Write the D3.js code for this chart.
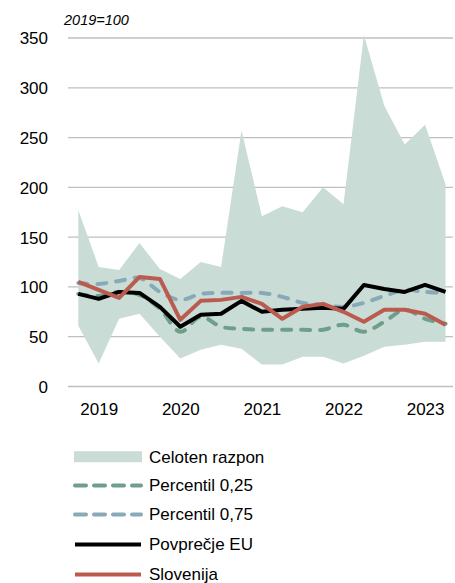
<!DOCTYPE html>
<html>
<head>
<meta charset="utf-8">
<script src="https://cdn.jsdelivr.net/npm/d3@7"></script>
<style>
  html, body { margin: 0; padding: 0; background: #fff; }
  svg { display: block; font-family: "Liberation Sans", Arial, sans-serif; }
</style>
</head>
<body>
<svg id="chart" width="455" height="583"></svg>
<script>
const quarters = ["2019Q1","2019Q2","2019Q3","2019Q4","2020Q1","2020Q2","2020Q3","2020Q4",
  "2021Q1","2021Q2","2021Q3","2021Q4","2022Q1","2022Q2","2022Q3","2022Q4",
  "2023Q1","2023Q2","2023Q3"];
const rangeMax = [177,120,117,144,118,108,125,120,257,171,181,175,200,183,353,282,243,263,203];
const rangeMin = [61,23,68,73,50,28,37,42,38,22,22,30,30,23,31,40,42,45,45];
const p25 = [93,91,95,92,78,55,70,60,58,57,57,57,57,62,55,65,77,68,63];
const p75 = [104,103,106,109,95,87,93,94,94,94,90,84,82,80,84,91,97,95,94];
const euAvg = [93,88,95,94,80,60,72,73,86,75,77,78,79,78,102,98,95,102,95];
const slovenia = [105,97,89,110,108,67,86,87,90,83,68,80,83,75,65,77,77,73,62];
const yTicks = [0,50,100,150,200,250,300,350];
const xTickQuarters = ["2019Q2","2020Q2","2021Q2","2022Q2","2023Q2"];
const unitLabel = "2019=100";
const legendLabels = ["Celoten razpon","Percentil 0,25","Percentil 0,75","Povprečje EU","Slovenija"];

const colors = {
  band: "#c9dcd5",
  p25: "#6e9f8a",
  p75: "#88a9b8",
  eu: "#000000",
  si: "#bb5a4f",
  grid: "#bfbfbf"
};

const svg = d3.select("#chart");
const x = d3.scalePoint().domain(quarters).range([78.3, 445.5]);
const y = d3.scaleLinear().domain([0, 350]).range([386.5, 38]);

// gridlines
svg.append("g").selectAll("line").data(yTicks).join("line")
  .attr("x1", 68).attr("x2", 453)
  .attr("y1", d => y(d)).attr("y2", d => y(d))
  .attr("stroke", colors.grid).attr("stroke-width", 1.3);

// y axis labels
const yAxis = d3.axisLeft(y).tickValues(yTicks).tickSize(0).tickPadding(0);
const gy = svg.append("g").attr("transform", "translate(48,0)").call(yAxis);
gy.select(".domain").remove();
gy.selectAll("text").attr("font-size", 17).attr("fill", "#000")
  .attr("font-family", '"Liberation Sans", Arial, sans-serif').attr("dy", "0.35em");

// x axis labels
const xAxis = d3.axisBottom(x).tickValues(xTickQuarters).tickFormat(d => d.slice(0,4)).tickSize(0).tickPadding(0);
const gx = svg.append("g").attr("transform", "translate(0,403)").call(xAxis);
gx.select(".domain").remove();
gx.selectAll("text").attr("font-size", 17).attr("fill", "#000")
  .attr("font-family", '"Liberation Sans", Arial, sans-serif');

// unit label
svg.append("text").attr("x", 64).attr("y", 25).attr("font-size", 14.5)
  .attr("font-style", "italic").text(unitLabel);

// band
const area = d3.area()
  .x((d, i) => x(quarters[i]))
  .y0((d, i) => y(rangeMin[i]))
  .y1((d, i) => y(rangeMax[i]));
svg.append("path").datum(quarters).attr("d", area).attr("fill", colors.band);

function drawLine(vals, color, dashed, smooth) {
  const line = d3.line().x((d, i) => x(quarters[i])).y(d => y(d))
    .curve(smooth ? d3.curveCatmullRom.alpha(0.5) : d3.curveLinear);
  const p = svg.append("path").datum(vals).attr("d", line)
    .attr("fill", "none").attr("stroke", color).attr("stroke-width", 4)
    .attr("stroke-linejoin", "round");
  if (dashed) p.attr("stroke-dasharray", "9,10").attr("stroke-linecap", "round");
  return p;
}
drawLine(p25, colors.p25, true, true);
drawLine(p75, colors.p75, true, true);
drawLine(euAvg, colors.eu, false, false);
drawLine(slovenia, colors.si, false, false);

// legend
const legendY = [456.7, 485.5, 514.5, 544.5, 574.5];
const lg = svg.append("g");
legendLabels.forEach((lab, i) => {
  const cy = legendY[i];
  if (i === 0) {
    lg.append("rect").attr("x", 74).attr("y", cy - 5.5).attr("width", 68).attr("height", 11)
      .attr("fill", colors.band);
  } else {
    const c = [null, colors.p25, colors.p75, colors.eu, colors.si][i];
    const l = lg.append("line").attr("x1", 75).attr("x2", 141).attr("y1", cy).attr("y2", cy)
      .attr("stroke", c).attr("stroke-width", 4);
    if (i <= 2) l.attr("stroke-dasharray", "11,8").attr("stroke-linecap", "round");
  }
  lg.append("text").attr("x", 149).attr("y", cy).attr("dy", "0.35em")
    .attr("font-size", 17).text(lab);
});
</script>
</body>
</html>
